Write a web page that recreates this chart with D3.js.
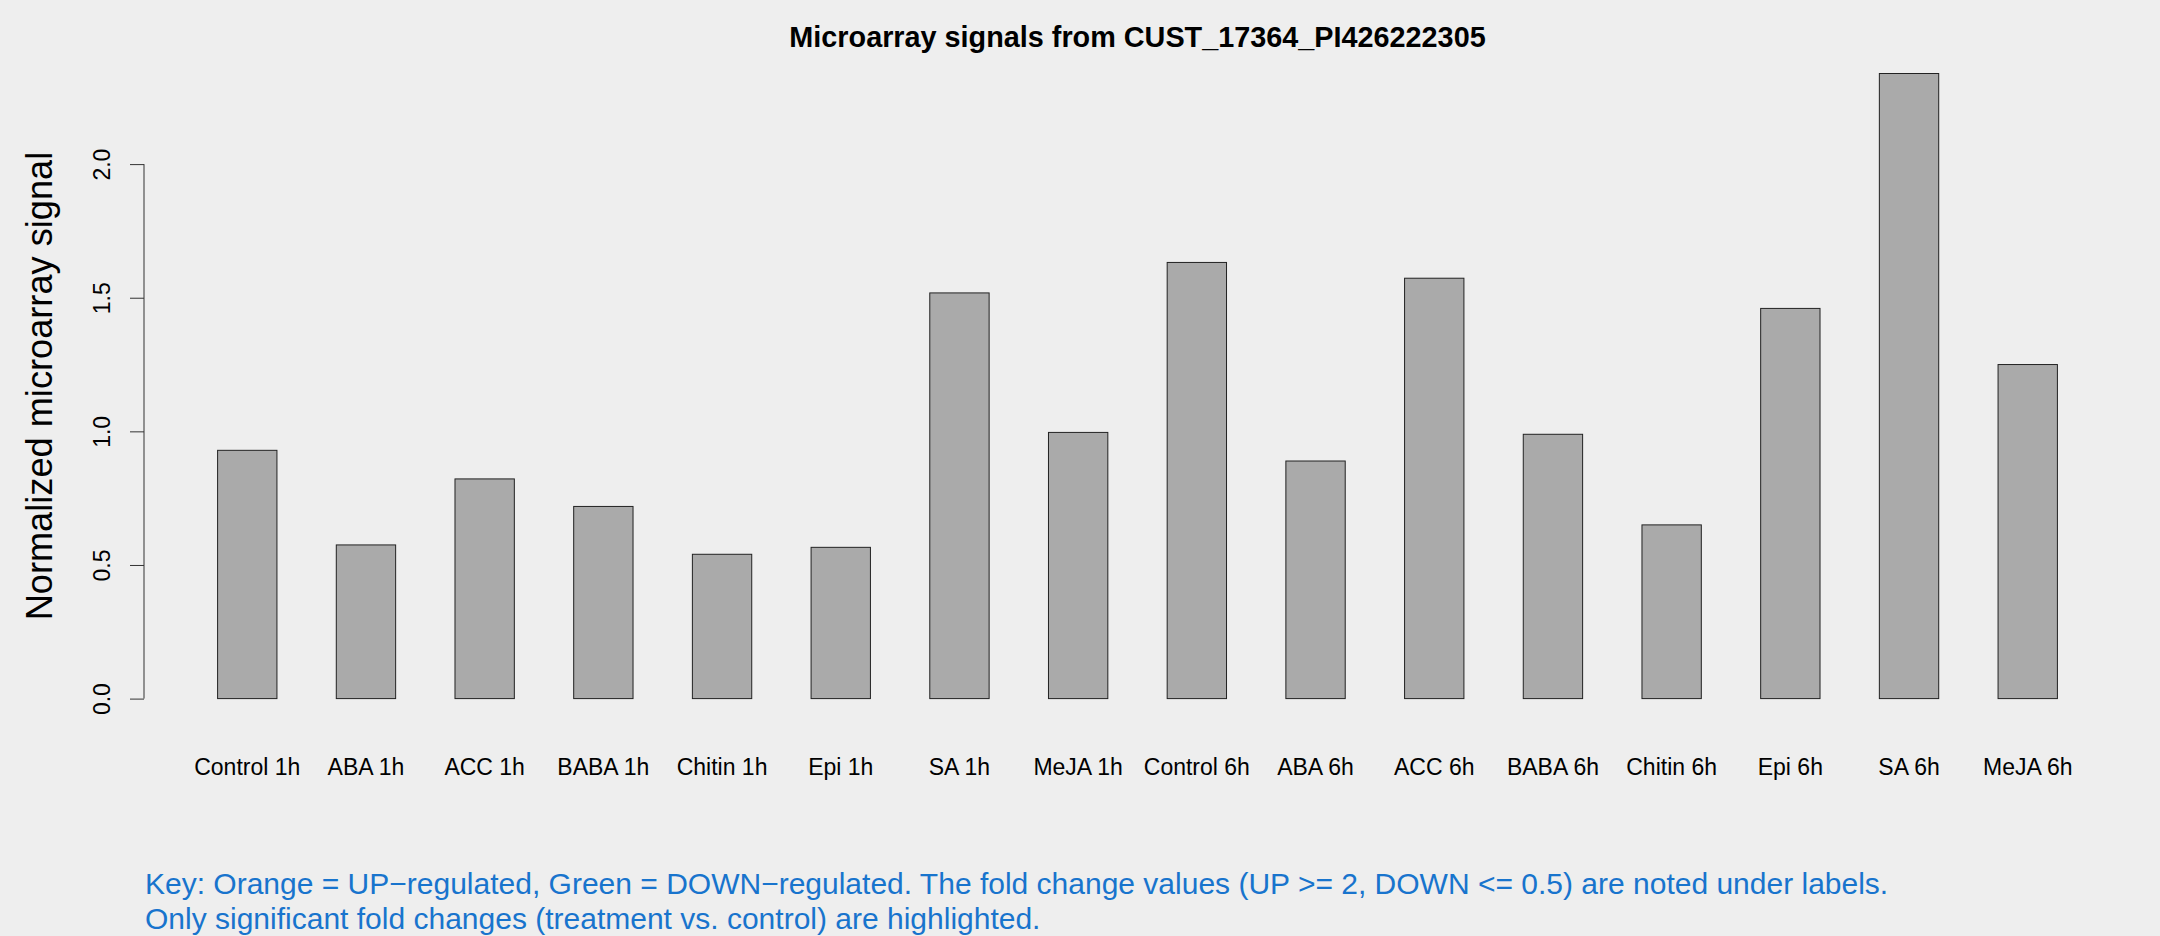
<!DOCTYPE html>
<html>
<head>
<meta charset="utf-8">
<script src="https://cdn.jsdelivr.net/npm/d3@7"></script>
<style>
html,body{margin:0;padding:0;background:#EEEEEE;}
svg{display:block;font-family:"Liberation Sans",Arial,Helvetica,sans-serif;}
</style>
</head>
<body>
<svg id="chart" width="2160" height="936"></svg>
<script>
const categories = ["Control 1h","ABA 1h","ACC 1h","BABA 1h","Chitin 1h","Epi 1h","SA 1h","MeJA 1h",
  "Control 6h","ABA 6h","ACC 6h","BABA 6h","Chitin 6h","Epi 6h","SA 6h","MeJA 6h"];
const values = [0.929,0.575,0.822,0.719,0.540,0.566,1.518,0.996,
  1.632,0.889,1.573,0.989,0.650,1.460,2.339,1.250];
const yTicks = [0.0,0.5,1.0,1.5,2.0];
const titleText = "Microarray signals from CUST_17364_PI426222305";
const yLabel = "Normalized microarray signal";
const keyLines = [
  "Key: Orange = UP\u2212regulated, Green = DOWN\u2212regulated. The fold change values (UP >= 2, DOWN <= 0.5) are noted under labels.",
  "Only significant fold changes (treatment vs. control) are highlighted."
];

const svg = d3.select("#chart");
svg.append("rect").attr("width",2160).attr("height",936).attr("fill","#EEEEEE");

// R barplot style: width 1, space 1 => bar i spans [2i+1, 2i+2]
const n = categories.length;
const xmin = 1, xmax = 2*n;
const xpad = (xmax - xmin)*0.04;
const plotL = 144, plotR = 2131;
const x = d3.scaleLinear().domain([xmin - xpad, xmax + xpad]).range([plotL, plotR]);

const ymax = d3.max(values);
const y = d3.scaleLinear().domain([-ymax*0.04, ymax*1.04]).range([723.6, 48.5]);

// bars
svg.append("g").selectAll("rect").data(values).join("rect")
  .attr("x",(d,i)=>x(2*i+1))
  .attr("width",(d,i)=>x(2*i+2)-x(2*i+1))
  .attr("y",d=>y(d))
  .attr("height",d=>y(0)-y(d))
  .attr("fill","#AAAAAA")
  .attr("stroke","#222")
  .attr("stroke-width",1);

// y axis
const yAxis = d3.axisLeft(y).tickValues(yTicks).tickFormat(d3.format(".1f")).tickSizeOuter(0).tickSize(14).tickPadding(0);
const ga = svg.append("g").attr("transform",`translate(${plotL},0)`).call(yAxis);
ga.select(".domain").attr("stroke","#333").attr("d",`M0,${y(0)}V${y(2)}`);
ga.selectAll(".tick line").attr("stroke","#333");
ga.selectAll(".tick text")
  .attr("font-size",23).attr("fill","#000")
  .attr("font-family","Liberation Sans, Arial, sans-serif")
  .attr("text-anchor","middle")
  .attr("x",0).attr("dy",0)
  .attr("transform","translate(-34,0) rotate(-90)");

// x labels
svg.append("g").selectAll("text").data(categories).join("text")
  .attr("x",(d,i)=>x(2*i+1.5))
  .attr("y",775)
  .attr("text-anchor","middle")
  .attr("font-size",23)
  .attr("fill","#000")
  .text(d=>d);

// title
svg.append("text").attr("x",(plotL+plotR)/2).attr("y",47)
  .attr("text-anchor","middle").attr("font-size",28.8).attr("font-weight","bold")
  .attr("fill","#000").text(titleText);

// y label
svg.append("text").attr("transform",`translate(52,${(48.5+723.6)/2}) rotate(-90)`)
  .attr("text-anchor","middle").attr("font-size",36.2).attr("fill","#000").text(yLabel);

// key
svg.append("g").selectAll("text").data(keyLines).join("text")
  .attr("x",145).attr("y",(d,i)=>894 + i*35)
  .attr("font-size",30).attr("fill","#1874CD").text(d=>d);
</script>
</body>
</html>
